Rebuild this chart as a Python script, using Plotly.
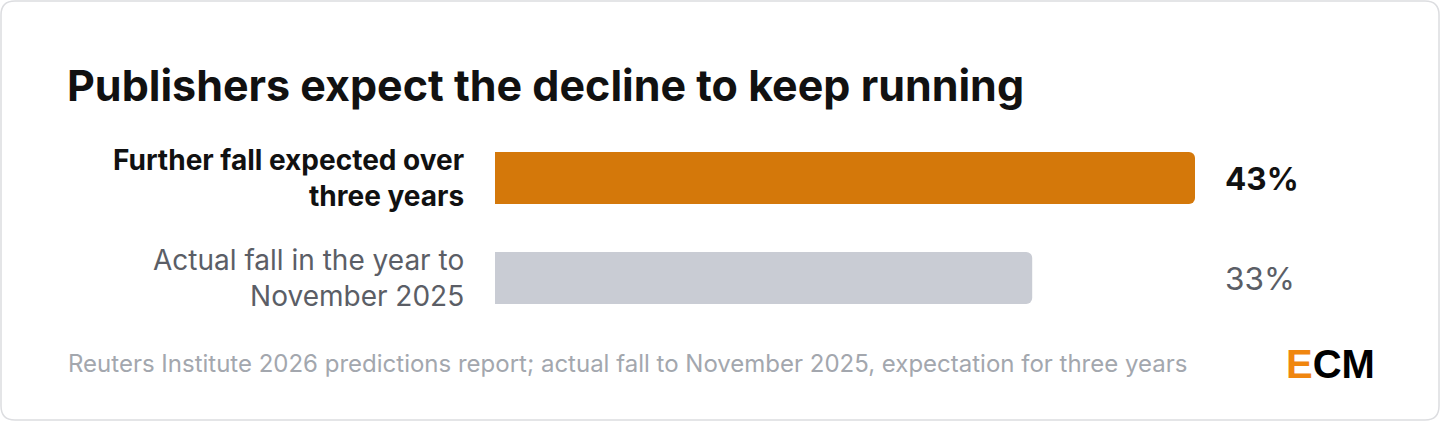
import plotly.graph_objects as go

categories = ["Further fall expected over<br>three years", "Actual fall in the year to<br>November 2025"]
values = [43, 33]
value_labels = ["43%", "33%"]
colors = ["#D4780A", "#C9CCD4"]

L, R, T, B = 495, 1195, 128, 328
def px(x): return (x - L) / (R - L)
def py(y): return (B - y) / (B - T)

fig = go.Figure(go.Bar(x=values, y=[0, 1], orientation="h", marker=dict(color=colors, line_width=0),
                       width=0.52, hoverinfo="skip"))
fig.update_layout(
    width=1440, height=421, margin=dict(l=L, r=1440 - R, t=T, b=421 - B),
    paper_bgcolor="white", plot_bgcolor="white", barcornerradius=6, showlegend=False,
    xaxis=dict(range=[0, 43], visible=False, fixedrange=True),
    yaxis=dict(range=[1.5, -0.5], visible=False, fixedrange=True),
    font=dict(family="Inter"),
)

x0, x1, y0, y1, r = 1, 1439, 1, 420, 14
path = (f"M {px(x0+r)},{py(y0)} L {px(x1-r)},{py(y0)} Q {px(x1)},{py(y0)} {px(x1)},{py(y0+r)} "
        f"L {px(x1)},{py(y1-r)} Q {px(x1)},{py(y1)} {px(x1-r)},{py(y1)} L {px(x0+r)},{py(y1)} "
        f"Q {px(x0)},{py(y1)} {px(x0)},{py(y1-r)} L {px(x0)},{py(y0+r)} Q {px(x0)},{py(y0)} {px(x0+r)},{py(y0)} Z")
fig.add_shape(type="path", path=path, xref="paper", yref="paper", line=dict(color="#DCDDE0", width=1.5),
              fillcolor="rgba(0,0,0,0)", layer="below")

ann = []
ann.append(dict(text="<b>Publishers expect the decline to keep running</b>", x=px(65), y=py(85), xanchor="left",
                yanchor="middle", font=dict(size=43, color="#111111")))
lab_styles = [dict(color="#111111", weight=700), dict(color="#5B5E66", weight=400)]
for i, (c, v, vl) in enumerate(zip(categories, values, value_labels)):
    ann.append(dict(text=c, x=px(466), y=i, yref="y", xanchor="right", yanchor="middle", align="right",
                    font=dict(size=28, **lab_styles[i])))
    ann.append(dict(text=vl, x=px(1223), y=i, yref="y", xanchor="left", yanchor="middle",
                    font=dict(size=31.5, **lab_styles[i])))
ann.append(dict(text="Reuters Institute 2026 predictions report; actual fall to November 2025, expectation for three years",
                x=px(66), y=py(363), xanchor="left", yanchor="middle", font=dict(size=24, color="#A3A7AE")))
ann.append(dict(text="<span style='color:#F0860F'>E</span>CM", x=px(1377), y=py(364), xanchor="right",
                yanchor="middle", font=dict(size=40, color="#000000", family="Liberation Sans", weight=700)))
for a in ann:
    a.setdefault("xref", "paper"); a.setdefault("yref", "paper"); a["showarrow"] = False
fig.update_layout(annotations=ann)
fig.write_html("out.html", config={"displayModeBar": False},
               post_script="document.body.style.margin='0';document.body.style.overflow='hidden';")
